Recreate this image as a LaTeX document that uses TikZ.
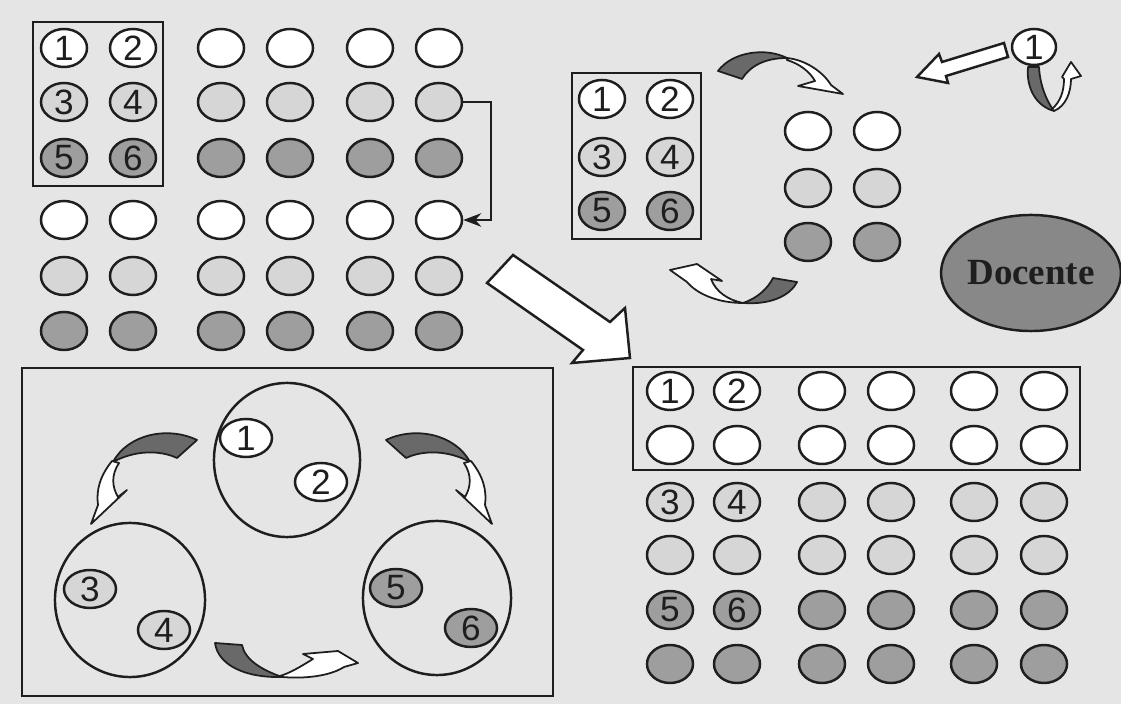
\documentclass[tikz,border=0pt]{standalone}
\usepackage{fontspec}
\setmainfont{Liberation Sans}
\newfontfamily\docfont{Liberation Serif}
\usetikzlibrary{arrows.meta,shapes.geometric,positioning}
\definecolor{paper}{RGB}{229,229,229}
\definecolor{lite}{RGB}{214,214,214}
\definecolor{shade}{RGB}{158,158,158}
\definecolor{teacher}{RGB}{136,136,136}
\definecolor{band}{RGB}{105,105,105}
\definecolor{ink}{RGB}{30,30,30}
\tikzset{
  seat/.style={ellipse,draw=ink,line width=0.7pt,minimum width=4.6mm,minimum height=3.8mm,
    inner sep=0pt,text=ink,font=\fontsize{10}{10}\selectfont},
  wseat/.style={seat,fill=white},
  lseat/.style={seat,fill=lite},
  dseat/.style={seat,fill=shade},
  frame/.style={draw=ink,line width=0.7pt},
  team/.style={ellipse,draw=ink,line width=0.7pt,minimum width=1.48cm,minimum height=1.54cm,inner sep=0pt},
  fold/.style={draw=ink,line width=0.5pt,fill=band,line join=round},
  flap/.style={draw=ink,line width=0.5pt,fill=white,line join=round},
  block/.style={draw=ink,line width=0.7pt,fill=white,line join=miter}
}
\begin{document}
\begin{tikzpicture}[x=0.01cm,y=-0.01cm]
  \fill[paper] (0,0) rectangle (1121,704);
  \useasboundingbox (0,0) rectangle (1121,704);

  % top left: the class in rows
  \draw[frame] (33,22) rectangle (163,186);
  \foreach \x/\y/\s/\n in {64/48/wseat/1,133/48/wseat/2,64/102/lseat/3,133/102/lseat/4,64/158/dseat/5,133/158/dseat/6}
    \node[\s] (tl\n) at (\x,\y) {\n};
  \foreach \y/\s [count=\r] in {48/wseat,102/lseat,158/dseat}
    \foreach \x [count=\c from 3] in {221,290,370,439}
      \node[\s] (tl-\r-\c) at (\x,\y) {};
  \foreach \y/\s [count=\r from 4] in {220/wseat,276/lseat,331/dseat}
    \foreach \x [count=\c] in {64,133,221,290,370,439}
      \node[\s] (tl-\r-\c) at (\x,\y) {};
  \draw[-{Stealth[length=1.8mm]},line width=0.7pt,ink] (tl-2-6.east) -- ++(28,0) |- (tl-4-6.east);

  % big arrow
  \draw[block] (513,255) -- (610,322) -- (625,308) -- (630,358) -- (572,363) -- (583,350) -- (487,283) -- cycle;

  % top right: one group and the teacher
  \draw[frame] (572,73) rectangle (701,239);
  \foreach \x/\y/\s/\n in {602/99/wseat/1,670/99/wseat/2,602/157/lseat/3,670/157/lseat/4,602/211/dseat/5,670/211/dseat/6}
    \node[\s] (tr\n) at (\x,\y) {\n};
  \foreach \y/\s [count=\r] in {131/wseat,188/lseat,242/dseat}
    \foreach \x [count=\c] in {808,877}
      \node[\s] (rg-\r-\c) at (\x,\y) {};
  \node[wseat,minimum width=4.4mm,minimum height=3.6mm] (one) at (1034,47) {1};
  \node[ellipse,draw=ink,line width=0.7pt,fill=teacher,minimum width=1.5cm,minimum height=1.16cm,
    inner sep=0pt,font=\docfont\bfseries\fontsize{10.5}{10.5}\selectfont,text=ink] (docente) at (1031,273) {Docente};
  \draw[block] (1004,43) -- (942,62) -- (939,54) -- (917,77) -- (948,83) -- (946,76) -- (1008,57) -- cycle;

  \draw[fold] (718,71) .. controls (732,52) and (765,47) .. (787,58) .. controls (765,58) and (750,66) .. (742,79) -- cycle;
  \draw[flap] (787,58) .. controls (806,60) and (823,72) .. (831,85) -- (843,94) -- (798,86) -- (815,81)
    .. controls (810,72) and (800,64) .. (787,60) -- cycle;
  \draw[fold] (797,282) .. controls (790,296) and (770,305) .. (743,303) .. controls (758,298) and (768,288) .. (773,278) -- cycle;
  \draw[flap] (743,303) .. controls (718,303) and (697,294) .. (687,282) -- (670,270) -- (697,264) -- (722,281) -- (711,279)
    .. controls (716,292) and (728,300) .. (743,303) -- cycle;
  \draw[fold] (1028,67) .. controls (1026,88) and (1036,106) .. (1054,111) .. controls (1046,100) and (1040,85) .. (1039,67) -- cycle;
  \draw[flap] (1054,111) .. controls (1066,106) and (1071,92) .. (1071,79) -- (1081,76) -- (1071,62) -- (1062,77) -- (1064,79)
    .. controls (1064,92) and (1060,102) .. (1052,109) -- cycle;

  % bottom left: groups in rotation
  \draw[frame] (22,368) rectangle (553,696);
  \node[team,minimum width=1.46cm] (grp12) at (287,460) {};
  \node[team,minimum width=1.5cm] (grp34) at (130,600) {};
  \node[team] (grp56) at (437,598) {};
  \foreach \x/\y/\s/\n in {246/438/wseat/1,321/482/wseat/2,90/589/lseat/3,164/630/lseat/4,396/588/dseat/5,471/628/dseat/6}
    \node[\s,minimum width=5.2mm] (bl\n) at (\x,\y) {\n};
  \draw[fold] (197,440) .. controls (168,426) and (128,434) .. (113,462) .. controls (135,450) and (160,450) .. (177,458) -- cycle;
  \draw[flap] (112,461) .. controls (100,476) and (96,490) .. (98,505) -- (91,524) -- (127,490) -- (118,497)
    .. controls (112,487) and (111,475) .. (119,463) -- cycle;
  \draw[fold] (386,440) .. controls (415,426) and (455,434) .. (470,462) .. controls (448,450) and (423,450) .. (406,458) -- cycle;
  \draw[flap] (471,461) .. controls (483,476) and (487,490) .. (485,505) -- (492,524) -- (456,490) -- (465,497)
    .. controls (471,487) and (472,475) .. (464,463) -- cycle;
  \draw[fold] (215,643) .. controls (218,665) and (245,678) .. (282,677) .. controls (262,670) and (245,660) .. (242,645) -- cycle;
  \draw[flap] (282,677) .. controls (305,679) and (330,676) .. (344,667) -- (358,663) -- (338,651) -- (303,654) -- (313,659)
    .. controls (300,667) and (290,673) .. (280,676) -- cycle;

  % bottom right: the class regrouped
  \draw[frame] (633,367) rectangle (1080,470);
  \foreach \x/\y/\s/\n in {670/391/wseat/1,737/391/wseat/2,670/502/lseat/3,737/502/lseat/4,670/610/dseat/5,737/610/dseat/6}
    \node[\s] (br\n) at (\x,\y) {\n};
  \foreach \y/\s [count=\r] in {391/wseat,502/lseat,610/dseat}
    \foreach \x [count=\c from 3] in {822,891,974,1044}
      \node[\s] (br-a\r-\c) at (\x,\y) {};
  \foreach \y/\s [count=\r] in {445/wseat,555/lseat,664/dseat}
    \foreach \x [count=\c] in {670,737,822,891,974,1044}
      \node[\s] (br-b\r-\c) at (\x,\y) {};
\end{tikzpicture}
\end{document}
